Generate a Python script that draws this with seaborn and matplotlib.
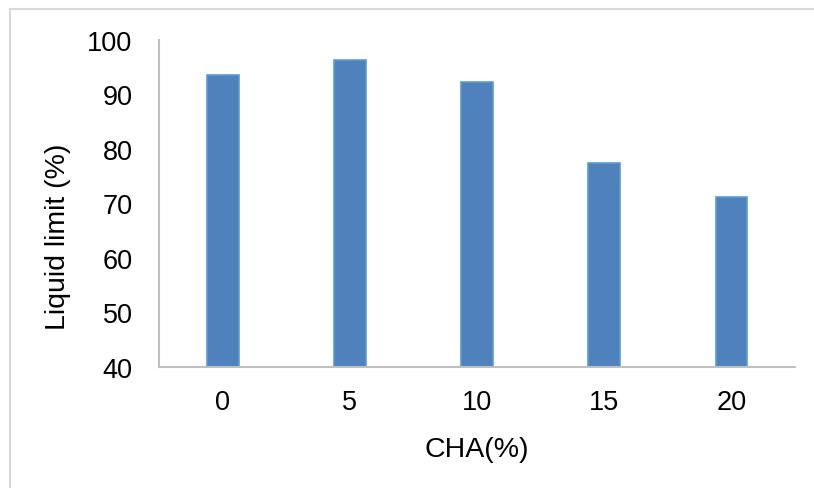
import matplotlib
matplotlib.use("Agg")
import matplotlib.pyplot as plt
from matplotlib.patches import Rectangle
import seaborn as sns
import pandas as pd

# CHA content (%) and measured liquid limit (%)
cha_levels = ["0", "5", "10", "15", "20"]
liquid_limit = [93.6, 96.2, 92.2, 77.4, 71.2]
y_ticks = [40, 50, 60, 70, 80, 90, 100]

df = pd.DataFrame({"CHA": cha_levels, "LL": liquid_limit})

sns.set_theme(style="white")
plt.rcParams["font.family"] = ["Liberation Sans", "DejaVu Sans"]

W, H = 814, 489
fig = plt.figure(figsize=(W / 100, H / 100), dpi=100)
fig.patch.set_facecolor("white")

# plot area in pixel terms
left, right, top, bottom = 159, 795, 40.7, 367.7
ax = fig.add_axes([left / W, 1 - bottom / H, (right - left) / W, (bottom - top) / H])

sns.barplot(data=df, x="CHA", y="LL", order=cha_levels, color="#4f81bd",
            saturation=1, width=0.25, edgecolor="#5b9bd5", linewidth=1.2, ax=ax)

ax.set_ylim(40, 100)
ax.set_yticks(y_ticks)
ax.set_xlim(-0.5, len(cha_levels) - 0.5)

for side in ("top", "right"):
    ax.spines[side].set_visible(False)
for side in ("left", "bottom"):
    ax.spines[side].set_color("#bfbfbf")
    ax.spines[side].set_linewidth(1.5)

ax.tick_params(axis="both", length=0, labelsize=19.5, labelcolor="black")
ax.tick_params(axis="x", pad=16)
ax.tick_params(axis="y", pad=19)

ax.set_xlabel("CHA(%)", fontsize=20.5, color="black")
ax.set_ylabel("Liquid limit (%)", fontsize=20.5, color="black")
ax.xaxis.label.set_va("center")
ax.yaxis.label.set_va("center")
ax.xaxis.set_label_coords(0.5, (bottom - 450) / (bottom - top))
ax.yaxis.set_label_coords((58 - left) / (right - left), (bottom - 237) / (bottom - top))

# chart frame
frame = Rectangle((9.5 / W, -0.1), 2, 1 - 9.5 / H + 0.1, transform=fig.transFigure,
                  fill=False, edgecolor="#d9d9d9", linewidth=1.5, clip_on=False)
fig.add_artist(frame)

fig.savefig("out.png", dpi=100)
